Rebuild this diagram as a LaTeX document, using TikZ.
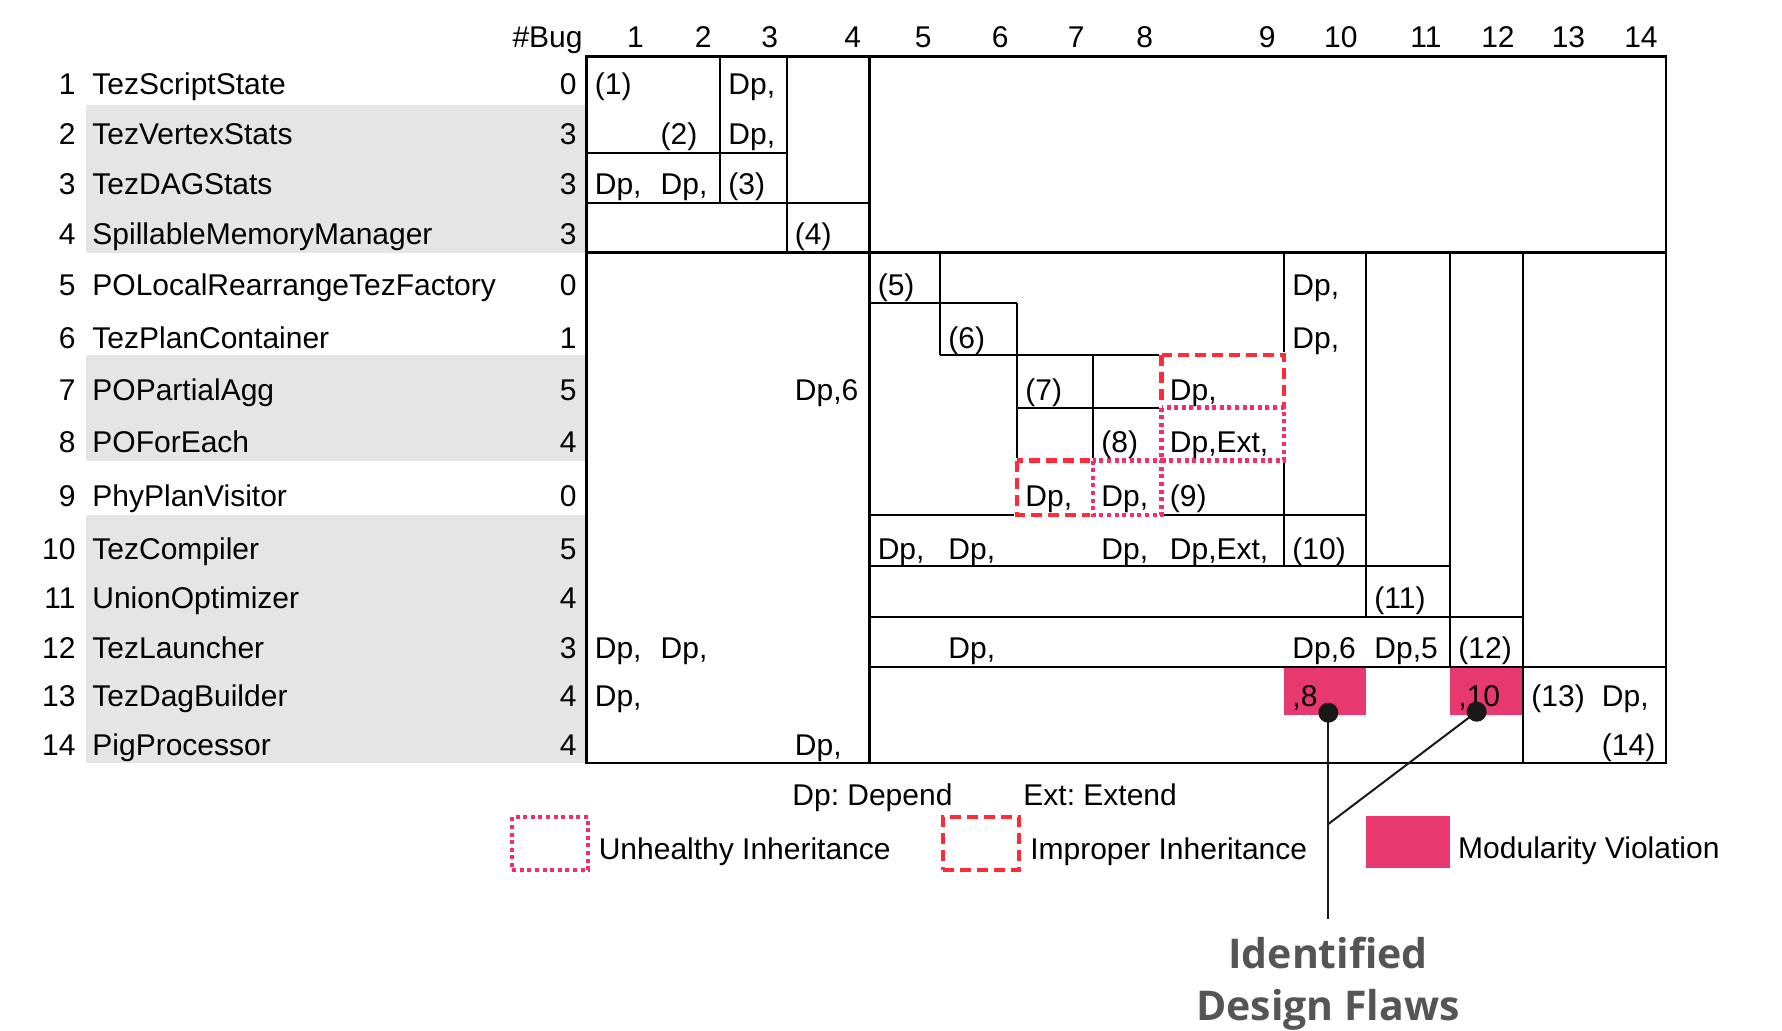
\documentclass[tikz,border=0pt]{standalone}
\usepackage{fontspec}
\setmainfont{Liberation Sans}
\newfontfamily\flawsfont{Open Sans}
\usetikzlibrary{positioning}
\frenchspacing

\definecolor{dashred}{RGB}{255,42,58}
\definecolor{dotpink}{RGB}{240,48,106}
\definecolor{modpink}{RGB}{232,56,112}
\definecolor{flawgray}{RGB}{85,85,85}

\begin{document}
\begin{tikzpicture}[x=0.5pt, y=-0.5pt, font=\fontsize{15}{17}\selectfont,
    txt/.style={anchor=base west, inner sep=0pt},
    rtxt/.style={anchor=base east, inner sep=0pt},
    head/.style={anchor=base east, inner sep=0pt, xshift=-4pt},
    cell/.style={anchor=base west, inner sep=0pt, xshift=4pt},
    rule/.style={draw, line width=1pt},
    outer/.style={draw, line width=1.4pt},
    erase/.style={draw=white, line width=2.8pt},
    improper/.style={draw=dashred, line width=2.2pt, dash pattern=on 5.5pt off 3pt},
    unhealthy/.style={draw=dotpink, line width=2.2pt, dash pattern=on 2pt off 1.8pt},
    violation/.style={fill=modpink},
    flawdot/.style={circle, fill=black!90, inner sep=0pt, minimum size=10pt},
    lead/.style={draw=black!90, line width=1pt},
    flawtxt/.style={anchor=base, inner sep=0pt, text=flawgray, font=\flawsfont\bfseries\fontsize{20.5}{24}\selectfont}]
    \useasboundingbox (0,0) rectangle (1782,1030);

    % Grid
    \coordinate (X0) at (586.5,0);  \coordinate (X1) at (652.3,0);  \coordinate (X2) at (720,0);
    \coordinate (X3) at (786.5,0);  \coordinate (X4) at (869.4,0);  \coordinate (X5) at (940,0);
    \coordinate (X6) at (1017,0);   \coordinate (X7) at (1093,0);   \coordinate (X8) at (1161.5,0);
    \coordinate (X9) at (1284,0);   \coordinate (X10) at (1366,0);  \coordinate (X11) at (1450,0);
    \coordinate (X12) at (1523,0);  \coordinate (X13) at (1593.5,0); \coordinate (X14) at (1666,0);
    \coordinate (Y0) at (0,56.7);   \coordinate (Y1) at (0,105);    \coordinate (Y2) at (0,153);
    \coordinate (Y3) at (0,203);    \coordinate (Y4) at (0,252.5);  \coordinate (Y5) at (0,302.5);
    \coordinate (Y6) at (0,355);    \coordinate (Y7) at (0,407.5);  \coordinate (Y8) at (0,460.5);
    \coordinate (Y9) at (0,515);    \coordinate (Y10) at (0,566);   \coordinate (Y11) at (0,617);
    \coordinate (Y12) at (0,667);   \coordinate (Y13) at (0,715);   \coordinate (Y14) at (0,763);
    \coordinate (B1) at (0,94);     \coordinate (B2) at (0,144);    \coordinate (B3) at (0,194);
    \coordinate (B4) at (0,244);    \coordinate (B5) at (0,295);    \coordinate (B6) at (0,348);
    \coordinate (B7) at (0,400);    \coordinate (B8) at (0,452);    \coordinate (B9) at (0,506);
    \coordinate (B10) at (0,559);   \coordinate (B11) at (0,608);   \coordinate (B12) at (0,658);
    \coordinate (B13) at (0,706);   \coordinate (B14) at (0,755);
    \coordinate (hdr) at (0,47);
    \coordinate (num) at (76,0);    \coordinate (name) at (92,0);   \coordinate (bug) at (577,0);

    % Shaded rows
    \fill[gray!20] (86,105) rectangle (585,252.5);
    \fill[gray!20] (86,355) rectangle (585,460.5);
    \fill[gray!20] (86,515) rectangle (585,763);

    % Modularity violations
    \fill[violation] (X9 |- Y12) rectangle (X10 |- Y13);
    \fill[violation] (X11 |- Y12) rectangle (X12 |- Y13);

    % Lines
    \draw[rule] (X2 |- Y0) -- (X2 |- Y3);
    \draw[rule] (X0 |- Y2) -- (X3 |- Y2);
    \draw[rule] (X3 |- Y0) -- (X3 |- Y4);
    \draw[rule] (X0 |- Y3) -- (X4 |- Y3);
    \draw[rule] (X5 |- Y4) -- (X5 |- Y6);
    \draw[rule] (X4 |- Y5) -- (X6 |- Y5);
    \draw[rule] (X6 |- Y5) -- (X6 |- Y8);
    \draw[rule] (X5 |- Y6) -- (X8 |- Y6);
    \draw[rule] (X7 |- Y6) -- (X7 |- Y8);
    \draw[rule] (X6 |- Y7) -- (X8 |- Y7);
    \draw[rule] (X8 |- Y6) -- (X8 |- Y9);
    \draw[rule] (X6 |- Y8) -- (X9 |- Y8);
    \draw[rule] (X9 |- Y4) -- (X9 |- Y10);
    \draw[rule] (X4 |- Y9) -- (X10 |- Y9);
    \draw[rule] (X10 |- Y4) -- (X10 |- Y11);
    \draw[rule] (X4 |- Y10) -- (X11 |- Y10);
    \draw[rule] (X11 |- Y4) -- (X11 |- Y12);
    \draw[rule] (X4 |- Y11) -- (X12 |- Y11);
    \draw[rule] (X12 |- Y4) -- (X12 |- Y14);
    \draw[rule] (X4 |- Y12) -- (X14 |- Y12);
    \draw[outer] (X0 |- Y4) -- (X14 |- Y4);
    \draw[outer] (X4 |- Y0) -- (X4 |- Y14);
    \draw[outer] (X0 |- Y0) rectangle (X14 |- Y14);

    % Inheritance flaws
    \draw[erase] (X8 |- Y6) rectangle (X9 |- Y7);
    \draw[erase] (X6 |- Y8) rectangle (X7 |- Y9);
    \draw[improper] (X8 |- Y6) rectangle (X9 |- Y7);
    \draw[improper] (X6 |- Y8) rectangle (X7 |- Y9);
    \draw[erase] (X8 |- Y7) rectangle (X9 |- Y8);
    \draw[erase] (X7 |- Y8) rectangle (X8 |- Y9);
    \draw[unhealthy] (X8 |- Y7) rectangle (X9 |- Y8);
    \draw[unhealthy] (X7 |- Y8) rectangle (X8 |- Y9);

    % Header
    \node[rtxt] (hbug) at (583,47) {\#Bug};
    \node[head] (h1) at (X1 |- hdr) {1};
    \node[head] (h2) at (X2 |- hdr) {2};
    \node[head] (h3) at (X3 |- hdr) {3};
    \node[head] (h4) at (X4 |- hdr) {4};
    \node[head] (h5) at (X5 |- hdr) {5};
    \node[head] (h6) at (X6 |- hdr) {6};
    \node[head] (h7) at (X7 |- hdr) {7};
    \node[head] (h8) at (X8 |- hdr) {8};
    \node[head] (h9) at (X9 |- hdr) {9};
    \node[head] (h10) at (X10 |- hdr) {10};
    \node[head] (h11) at (X11 |- hdr) {11};
    \node[head] (h12) at (X12 |- hdr) {12};
    \node[head] (h13) at (X13 |- hdr) {13};
    \node[head] (h14) at (X14 |- hdr) {14};

    % Rows
    \node[rtxt] (n1) at (num |- B1) {1};   \node[txt] (r1) at (name |- B1) {TezScriptState};            \node[rtxt] (b1) at (bug |- B1) {0};
    \node[rtxt] (n2) at (num |- B2) {2};   \node[txt] (r2) at (name |- B2) {TezVertexStats};            \node[rtxt] (b2) at (bug |- B2) {3};
    \node[rtxt] (n3) at (num |- B3) {3};   \node[txt] (r3) at (name |- B3) {TezDAGStats};               \node[rtxt] (b3) at (bug |- B3) {3};
    \node[rtxt] (n4) at (num |- B4) {4};   \node[txt] (r4) at (name |- B4) {SpillableMemoryManager};    \node[rtxt] (b4) at (bug |- B4) {3};
    \node[rtxt] (n5) at (num |- B5) {5};   \node[txt] (r5) at (name |- B5) {POLocalRearrangeTezFactory}; \node[rtxt] (b5) at (bug |- B5) {0};
    \node[rtxt] (n6) at (num |- B6) {6};   \node[txt] (r6) at (name |- B6) {TezPlanContainer};          \node[rtxt] (b6) at (bug |- B6) {1};
    \node[rtxt] (n7) at (num |- B7) {7};   \node[txt] (r7) at (name |- B7) {POPartialAgg};              \node[rtxt] (b7) at (bug |- B7) {5};
    \node[rtxt] (n8) at (num |- B8) {8};   \node[txt] (r8) at (name |- B8) {POForEach};                 \node[rtxt] (b8) at (bug |- B8) {4};
    \node[rtxt] (n9) at (num |- B9) {9};   \node[txt] (r9) at (name |- B9) {PhyPlanVisitor};            \node[rtxt] (b9) at (bug |- B9) {0};
    \node[rtxt] (n10) at (num |- B10) {10}; \node[txt] (r10) at (name |- B10) {TezCompiler};            \node[rtxt] (b10) at (bug |- B10) {5};
    \node[rtxt] (n11) at (num |- B11) {11}; \node[txt] (r11) at (name |- B11) {UnionOptimizer};         \node[rtxt] (b11) at (bug |- B11) {4};
    \node[rtxt] (n12) at (num |- B12) {12}; \node[txt] (r12) at (name |- B12) {TezLauncher};            \node[rtxt] (b12) at (bug |- B12) {3};
    \node[rtxt] (n13) at (num |- B13) {13}; \node[txt] (r13) at (name |- B13) {TezDagBuilder};          \node[rtxt] (b13) at (bug |- B13) {4};
    \node[rtxt] (n14) at (num |- B14) {14}; \node[txt] (r14) at (name |- B14) {PigProcessor};           \node[rtxt] (b14) at (bug |- B14) {4};

    % Cells
    \node[cell] (c1-1) at (X0 |- B1) {(1)};
    \node[cell] (c1-3) at (X2 |- B1) {Dp,};
    \node[cell] (c2-2) at (X1 |- B2) {(2)};
    \node[cell] (c2-3) at (X2 |- B2) {Dp,};
    \node[cell] (c3-1) at (X0 |- B3) {Dp,};
    \node[cell] (c3-2) at (X1 |- B3) {Dp,};
    \node[cell] (c3-3) at (X2 |- B3) {(3)};
    \node[cell] (c4-4) at (X3 |- B4) {(4)};
    \node[cell] (c5-5) at (X4 |- B5) {(5)};
    \node[cell] (c5-10) at (X9 |- B5) {Dp,};
    \node[cell] (c6-6) at (X5 |- B6) {(6)};
    \node[cell] (c6-10) at (X9 |- B6) {Dp,};
    \node[cell] (c7-4) at (X3 |- B7) {Dp,6};
    \node[cell] (c7-7) at (X6 |- B7) {(7)};
    \node[cell] (c7-9) at (X8 |- B7) {Dp,};
    \node[cell] (c8-8) at (X7 |- B8) {(8)};
    \node[cell] (c8-9) at (X8 |- B8) {Dp,Ext,};
    \node[cell] (c9-7) at (X6 |- B9) {Dp,};
    \node[cell] (c9-8) at (X7 |- B9) {Dp,};
    \node[cell] (c9-9) at (X8 |- B9) {(9)};
    \node[cell] (c10-5) at (X4 |- B10) {Dp,};
    \node[cell] (c10-6) at (X5 |- B10) {Dp,};
    \node[cell] (c10-8) at (X7 |- B10) {Dp,};
    \node[cell] (c10-9) at (X8 |- B10) {Dp,Ext,};
    \node[cell] (c10-10) at (X9 |- B10) {(10)};
    \node[cell] (c11-11) at (X10 |- B11) {(11)};
    \node[cell] (c12-1) at (X0 |- B12) {Dp,};
    \node[cell] (c12-2) at (X1 |- B12) {Dp,};
    \node[cell] (c12-6) at (X5 |- B12) {Dp,};
    \node[cell] (c12-10) at (X9 |- B12) {Dp,6};
    \node[cell] (c12-11) at (X10 |- B12) {Dp,5};
    \node[cell] (c12-12) at (X11 |- B12) {(12)};
    \node[cell] (c13-1) at (X0 |- B13) {Dp,};
    \node[cell] (c13-10) at (X9 |- B13) {,8};
    \node[cell] (c13-12) at (X11 |- B13) {,10};
    \node[cell] (c13-13) at (X12 |- B13) {(13)};
    \node[cell] (c13-14) at (X13 |- B13) {Dp,};
    \node[cell] (c14-4) at (X3 |- B14) {Dp,};
    \node[cell] (c14-14) at (X13 |- B14) {(14)};

    % Design flaws
    \node[flawdot] (d8) at (1328.3,712.7) {};
    \node[flawdot] (d10) at (1476.7,711.7) {};
    \coordinate (join) at (1328.3,824);
    \coordinate (stem) at (1328.3,919);
    \draw[lead] (d8.center) -- (stem);
    \draw[lead] (d10.center) -- (join);
    \node[flawtxt] (flawsa) at (1328,968) {Identified};
    \node[flawtxt] (flawsb) at (1328,1020) {Design Flaws};

    % Legend
    \node[txt] (dp) at (792,805) {Dp: Depend};
    \node[txt] (ext) at (1023,805) {Ext: Extend};
    \node[unhealthy, anchor=north west, inner sep=0pt, minimum width=38pt, minimum height=26.5pt] (uhbox) at (510,815) {};
    \node[txt, right=4pt of uhbox, anchor=base west, yshift=-8pt] (uhtext) {Unhealthy Inheritance};
    \node[improper, anchor=north west, inner sep=0pt, minimum width=38pt, minimum height=26.5pt] (ipbox) at (940.5,815) {};
    \node[txt, right=4.5pt of ipbox, anchor=base west, yshift=-8pt] (iptext) {Improper Inheritance};
    \node[violation, anchor=north west, inner sep=0pt, minimum width=42pt, minimum height=26pt] (mvbox) at (1366,816) {};
    \node[txt, right=3.5pt of mvbox, anchor=base west, yshift=-8pt] (mvtext) {Modularity Violation};
\end{tikzpicture}
\end{document}
